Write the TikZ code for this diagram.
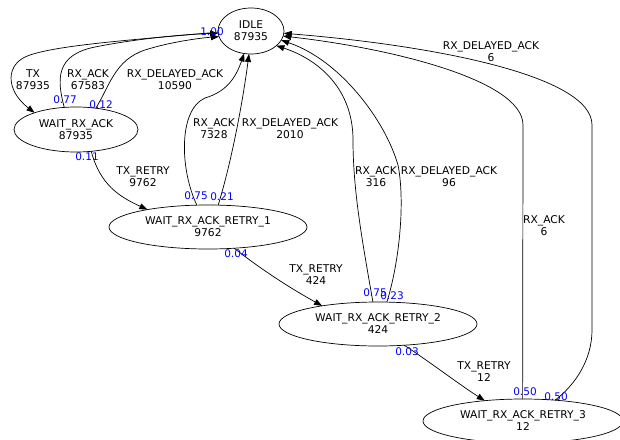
\documentclass[tikz,border=0pt]{standalone}
\usepackage{fontspec}
\setmainfont{DejaVu Sans}
\usetikzlibrary{shapes.geometric,arrows.meta}
\begin{document}
\begin{tikzpicture}[x=1pt,y=-1pt,
  state/.style={ellipse,draw,line width=0.7pt,inner sep=0pt,outer sep=0pt,align=center,font=\fontsize{10.7}{12}\selectfont},
  edge/.style={line width=0.7pt,-{Triangle[length=8pt,width=6pt]}},
  lbl/.style={align=center,inner sep=0pt,font=\fontsize{10.7}{12}\selectfont},
  prob/.style={text=blue,inner sep=0pt,font=\fontsize{10.5}{12}\selectfont}]
\useasboundingbox (0,0) rectangle (620,439);
\clip (0,0) rectangle (620,439);
% nodes
\node[state,minimum width=66pt,minimum height=46pt] (idle) at (251,31) {IDLE\\87935};
\node[state,minimum width=124pt,minimum height=45pt] (wra) at (76,129.5) {WAIT\_RX\_ACK\\87935};
\node[state,minimum width=198pt,minimum height=44pt] (r1) at (208,227) {WAIT\_RX\_ACK\_RETRY\_1\\9762};
\node[state,minimum width=198pt,minimum height=44pt] (r2) at (378,324) {WAIT\_RX\_ACK\_RETRY\_2\\424};
\node[state,minimum width=200pt,minimum height=44pt] (r3) at (523,421) {WAIT\_RX\_ACK\_RETRY\_3\\12};
% helper points
\coordinate (txa) at (30,55);
\coordinate (rxa) at (95,47);
\coordinate (rda) at (145,50);
\coordinate (ra1) at (205,98);
\coordinate (ra2) at (353,140);
\coordinate (rd2) at (398,165);
\coordinate (ra3) at (523,125);
\coordinate (rd3a) at (592,330);
\coordinate (rd3b) at (592,125);
% edges
\draw[edge] (idle.182) .. controls (130,40) and (60,45) .. (txa) .. controls (5,63) and (5,90) .. (wra.158);
\draw[edge] (wra.118) .. controls (57,80) and (55,55) .. (rxa) .. controls (140,38) and (190,34) .. (idle.184);
\draw[edge] (wra.47) .. controls (110,85) and (115,60) .. (rda) .. controls (170,42) and (200,38) .. (idle.190);
\draw[edge] (wra.305) .. controls (100,185) and (120,197) .. (r1.164);
\draw[edge] (r1.117) .. controls (180,170) and (178,110) .. (ra1) .. controls (225,92) and (235,80) .. (idle.253);
\draw[edge] (r1.65) .. controls (232,160) and (243,100) .. (idle.265);
\draw[edge] (r2.103) .. controls (362,240) and (353,190) .. (ra2) .. controls (353,90) and (320,60) .. (idle.330);
\draw[edge] (r2.68) .. controls (400,260) and (405,200) .. (rd2) .. controls (385,120) and (340,60) .. (idle.343);
\draw[edge] (r3.91) -- (ra3) .. controls (523,80) and (390,48) .. (idle.351);
\draw[edge] (r3.33) .. controls (575,385) and (592,360) .. (rd3a) -- (rd3b) .. controls (592,75) and (430,45) .. (idle.356);
\draw[edge] (r1.321) .. controls (262,270) and (290,288) .. (r2.162);
\draw[edge] (r2.321) .. controls (430,362) and (460,385) .. (r3.152);
% labels
\node[lbl] (l1) at (33,80) {TX\\87935};
\node[lbl] (l2) at (88,80) {RX\_ACK\\67583};
\node[lbl] (l3) at (175,80) {RX\_DELAYED\_ACK\\10590};
\node[lbl] (l4) at (143,177) {TX\_RETRY\\9762};
\node[lbl] (l5) at (214,129) {RX\_ACK\\7328};
\node[lbl] (l6) at (290,129) {RX\_DELAYED\_ACK\\2010};
\node[lbl] (l7) at (376,177) {RX\_ACK\\316};
\node[lbl] (l8) at (449,177) {RX\_DELAYED\_ACK\\96};
\node[lbl] (l9) at (491,52) {RX\_DELAYED\_ACK\\6};
\node[lbl] (l10) at (544,226) {RX\_ACK\\6};
\node[lbl] (l11) at (316,275) {TX\_RETRY\\424};
\node[lbl] (l12) at (484,372) {TX\_RETRY\\12};
% probabilities
\node[prob] (p1) at (212,32) {1.00};
\node[prob] (p2) at (65,100) {0.77};
\node[prob] (p3) at (101,105) {0.12};
\node[prob] (p4) at (87,157) {0.11};
\node[prob] (p5) at (196,196) {0.75};
\node[prob] (p6) at (222,197) {0.21};
\node[prob] (p7) at (236,254) {0.04};
\node[prob] (p8) at (375,293) {0.75};
\node[prob] (p9) at (392,296) {0.23};
\node[prob] (p10) at (407,352) {0.03};
\node[prob] (p11) at (525,392) {0.50};
\node[prob] (p12) at (556,397) {0.50};
\end{tikzpicture}
\end{document}
